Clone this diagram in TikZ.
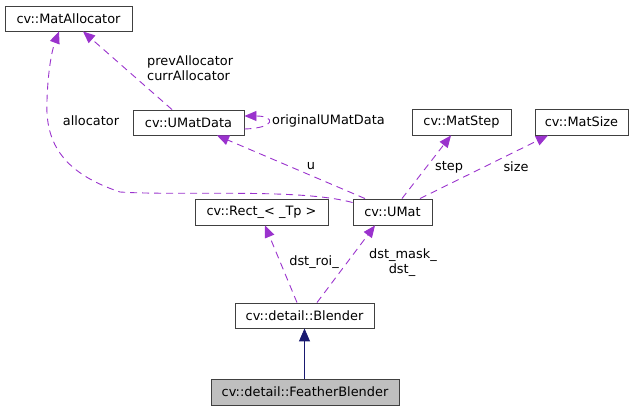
\documentclass[tikz,border=0pt]{standalone}
\usepackage{fontspec}
\setmainfont{DejaVu Sans}
\usetikzlibrary{arrows.meta,calc}
\definecolor{edgepurple}{HTML}{9A32CD}
\definecolor{navy}{HTML}{191970}
\definecolor{boxgray}{HTML}{BFBFBF}
\definecolor{border}{HTML}{404040}
\begin{document}
\begin{tikzpicture}[x=1pt,y=-1pt,
  box/.style={draw=border,line width=0.9pt,rectangle,inner sep=0pt,fill=white,font=\fontsize{12.9}{15}\selectfont},
  lbl/.style={inner sep=0pt,font=\fontsize{12.9}{15}\selectfont},
  rel/.style={draw=edgepurple,line width=0.9pt,dash pattern=on 7pt off 5pt,-{Triangle[length=12pt,width=10pt]}},
  inh/.style={draw=navy,line width=0.9pt,-{Triangle[length=13pt,width=11pt]}}]
\useasboundingbox (0,0) rectangle (637,411);
\node[box,minimum width=127pt,minimum height=25pt] (alloc) at (68.5,18.5) {cv::MatAllocator};
\node[box,minimum width=111pt,minimum height=25pt] (umd) at (188.5,122.5) {cv::UMatData};
\node[box,minimum width=99pt,minimum height=26pt] (step) at (461.5,122) {cv::MatStep};
\node[box,minimum width=93pt,minimum height=26pt] (size) at (581.5,122) {cv::MatSize};
\node[box,minimum width=133pt,minimum height=26pt] (rect) at (261.5,212) {cv::Rect\_< \_Tp >};
\node[box,minimum width=79pt,minimum height=26pt] (umat) at (392.5,212) {cv::UMat};
\node[box,minimum width=139pt,minimum height=25pt] (blend) at (304.5,315.5) {cv::detail::Blender};
\node[box,fill=boxgray,minimum width=188pt,minimum height=26pt] (fb) at (305,392) {cv::detail::FeatherBlender};
% labels
\node[lbl,anchor=west] (l1) at (147,62) {prevAllocator};
\node[lbl,anchor=west] (l2) at (147,76) {currAllocator};
\node[lbl] (l3) at (91,121) {allocator};
\node[lbl,anchor=west] (l4) at (272,121) {originalUMatData};
\node[lbl] (l5) at (311,166) {u};
\node[lbl] (l6) at (449,167) {step};
\node[lbl] (l7) at (516,167) {size};
\node[lbl] (l8) at (314,262) {dst\_roi\_};
\node[lbl] (l9) at (403,255) {dst\_mask\_};
\node[lbl] (l10) at (402,270) {dst\_};
% connectors
\draw[inh] (fb.north -| blend.south) -- (blend.south);
\draw[rel] ($(umd.north)+(-16.5,0)$) -- ($(alloc.south)+(14.5,0)$);
\draw[rel] ($(umat.north west)+(0,4)$) .. controls (300,188) and (180,196) .. (120,192) .. controls (60,172) and (45,140) .. (47,100) .. controls (48,70) and (52,50) .. ($(alloc.south)+(-9.5,0)$);
\draw[rel] ($(umd.east)+(0,6.5)$) .. controls +(32,-1) and +(31,0) .. ($(umd.east)+(0,-6.5)$);
\draw[rel] ($(umat.north)+(-27.5,0)$) -- ($(umd.south)+(28.5,0)$);
\draw[rel] ($(umat.north)+(9.5,0)$) -- ($(step.south)+(-10.5,0)$);
\draw[rel] ($(umat.north)+(27.5,0)$) -- ($(size.south)+(-33.5,0)$);
\draw[rel] ($(blend.north)+(-7.5,0)$) -- ($(rect.south)+(3.5,0)$);
\draw[rel] ($(blend.north)+(12.5,0)$) -- ($(umat.south)+(-17.5,0)$);
\end{tikzpicture}
\end{document}
